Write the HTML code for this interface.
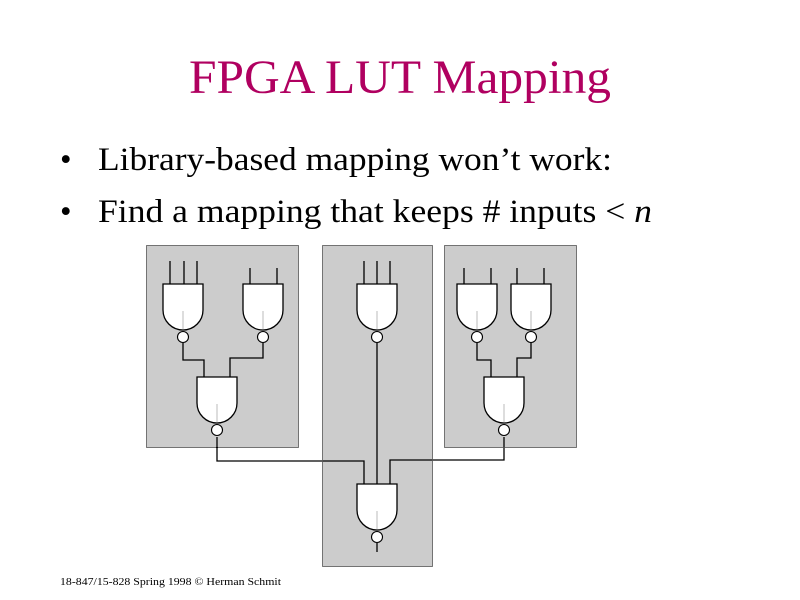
<!DOCTYPE html>
<html><head><style>
html,body{margin:0;padding:0;background:#fff;}
svg{display:block;}
</style></head><body>
<svg width="800" height="600" viewBox="0 0 800 600" xmlns="http://www.w3.org/2000/svg">
<defs>
<g id="gate">
  <path d="M0,0 H40 V26 A20,20 0 0 1 0,26 Z" fill="#fff" stroke="#000" stroke-width="1.3"/>
  <line x1="20" y1="27" x2="20" y2="45" stroke="#bbb" stroke-width="1"/>
  <circle cx="20" cy="53" r="5.5" fill="#fff" stroke="#000" stroke-width="1.1"/>
</g>
</defs>
<text x="189" y="93" textLength="422" lengthAdjust="spacingAndGlyphs" font-family="Liberation Serif, serif" font-size="48" fill="#b00060">FPGA LUT Mapping</text>
<g font-family="Liberation Serif, serif" font-size="33" fill="#000">
<text x="60" y="170">•</text><text x="98" y="170" textLength="514" lengthAdjust="spacingAndGlyphs">Library-based mapping won’t work:</text>
<text x="60" y="222">•</text><text x="98" y="222" textLength="554" lengthAdjust="spacingAndGlyphs">Find a mapping that keeps # inputs &lt; <tspan font-style="italic">n</tspan></text>
</g>
<g fill="#cccccc" stroke="#000" stroke-width="1" stroke-dasharray="1,1">
<rect x="146.5" y="245.5" width="152" height="202"/>
<rect x="322.5" y="245.5" width="110" height="321"/>
<rect x="444.5" y="245.5" width="132" height="202"/>
</g>
<g stroke="#000" stroke-width="1.3" fill="none">
<path d="M170,261V284M184,261V284M197,261V284M250,268V284M277,268V284"/>
<path d="M364,261V284M377,261V284M390,261V284"/>
<path d="M464,268V284M491,268V284M517,268V284M544,268V284"/>
<path d="M183,343V360H204V377M263,343V358H230V377"/>
<path d="M477,343V360H491V377M531,343V358H517V377"/>
<path d="M377,343V484"/>
<path d="M217,437V461H364V484M504,437V460H390V484"/>
<path d="M377,543V552"/>
</g>
<use href="#gate" x="163" y="284"/>
<use href="#gate" x="243" y="284"/>
<use href="#gate" x="197" y="377"/>
<use href="#gate" x="357" y="284"/>
<use href="#gate" x="457" y="284"/>
<use href="#gate" x="511" y="284"/>
<use href="#gate" x="484" y="377"/>
<use href="#gate" x="357" y="484"/>
<text x="60" y="585" textLength="221" lengthAdjust="spacingAndGlyphs" font-family="Liberation Serif, serif" font-size="10" fill="#000">18-847/15-828 Spring 1998 © Herman Schmit</text>
</svg>
</body></html>
